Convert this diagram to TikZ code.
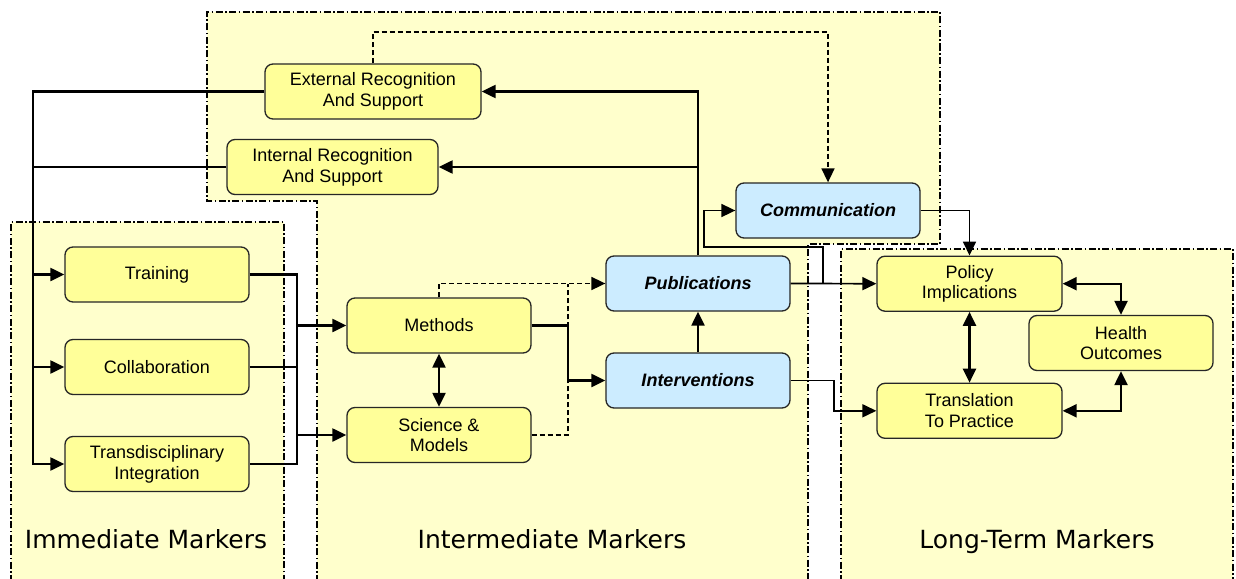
\documentclass[tikz,border=0pt]{standalone}
\usepackage{fontspec}
\setmainfont{Liberation Sans}
\newfontfamily\labfont{DejaVu Sans}
\usetikzlibrary{arrows.meta}
\definecolor{regfill}{RGB}{255,255,204}
\definecolor{nodey}{RGB}{255,255,153}
\definecolor{nodeb}{RGB}{204,236,255}
\tikzset{
  region/.style={fill=regfill, draw=black, line width=1.1pt, dash pattern=on 7pt off 2.5pt on 1.5pt off 2.5pt},
  box/.style={draw=black!85, line width=1.3pt, rounded corners=8pt, fill=nodey, minimum height=55pt, inner sep=0pt, align=center, font=\fontsize{18}{20.7}\selectfont},
  bbox/.style={box, fill=nodeb, font=\fontsize{18}{20.7}\selectfont\bfseries\itshape},
  conn/.style={line width=2.2pt, -{Triangle[length=14pt,width=13pt]}},
  plain/.style={line width=2.2pt},
  thin/.style={line width=1.7pt, -{Triangle[length=14pt,width=13pt]}},
  dconn/.style={line width=1.7pt, dash pattern=on 5pt off 3pt, -{Triangle[length=14pt,width=13pt]}},
  dplain/.style={line width=1.7pt, dash pattern=on 5pt off 3pt},
  both/.style={line width=2.2pt, {Triangle[length=14pt,width=13pt]}-{Triangle[length=14pt,width=13pt]}},
  lab/.style={anchor=base, font=\labfont\fontsize{25}{30}\selectfont}
}
\begin{document}
\begin{tikzpicture}[x=1pt,y=-1pt]
\useasboundingbox (0,0) rectangle (1236,578);
% regions
\draw[region] (11,582) -- (11,222) -- (284,222) -- (284,582);
\draw[region] (317,582) -- (317,201) -- (207,201) -- (207,12) -- (940,12) -- (940,244) -- (808,244) -- (808,582);
\draw[region] (841,582) -- (841,249) -- (1233,249) -- (1233,582);
% labels
\node[lab] (l1) at (146,548) {Immediate Markers};
\node[lab] (l2) at (552,548) {Intermediate Markers};
\node[lab] (l3) at (1037,548) {Long-Term Markers};
% nodes
\node[box, minimum width=216pt] (ext) at (373,91.5) {External Recognition\\And Support};
\node[box, minimum width=211pt] (int) at (332.5,167) {Internal Recognition\\And Support};
\node[box, minimum width=184pt] (train) at (157,274.5) {Training};
\node[box, minimum width=184pt] (collab) at (157,367) {Collaboration};
\node[box, minimum width=184pt] (trans) at (157,464) {Transdisciplinary\\Integration};
\node[box, minimum width=184pt] (meth) at (439,325.5) {Methods};
\node[box, minimum width=184pt] (sci) at (439,435) {Science \&\\Models};
\node[bbox, minimum width=184pt] (pub) at (698,283.5) {Publications};
\node[bbox, minimum width=184pt] (interv) at (698,380.5) {Interventions};
\node[bbox, minimum width=184pt] (comm) at (828,210.5) {Communication};
\node[box, minimum width=185pt] (pol) at (969.5,283.7) {Policy\\Implications};
\node[box, minimum width=185pt] (transl) at (969.5,410.8) {Translation\\To Practice};
\node[box, minimum width=184pt] (health) at (1121,343) {Health\\Outcomes};
% helper coordinates
\coordinate (bl) at (33,0);
\coordinate (br) at (297,0);
\coordinate (mb) at (568,0);
\coordinate (tp) at (0,32);
\coordinate (lp1) at (823,247);
\coordinate (lp2) at (704,0);
\coordinate (ib) at (834,0);
% left bus
\draw[conn] (ext.west) -- (ext.west -| bl) -- (trans.west -| bl) -- (trans.west);
\draw[plain] (int.west) -- (int.west -| bl);
\draw[conn] (train.west -| bl) -- (train.west);
\draw[conn] (collab.west -| bl) -- (collab.west);
% immediate right bus
\draw[plain] (train.east) -- (train.east -| br) -- (trans.east -| br) -- (trans.east);
\draw[plain] (collab.east) -- (collab.east -| br);
\draw[conn] (meth.west -| br) -- (meth.west);
\draw[conn] (sci.west -| br) -- (sci.west);
% methods / science
\draw[both] (meth.south) -- (sci.north);
\draw[conn] (meth.east) -- (meth.east -| mb) |- (interv.west);
\draw[dconn] (meth.north) |- (pub.west);
\draw[dplain] (sci.east) -| (pub.west -| mb);
% interventions / publications
\draw[conn] (interv.north) -- (pub.south);
\draw[conn] (pub.north) |- (ext.east);
\draw[conn] (pub.north |- int.east) -- (int.east);
% external to communication (dashed)
\draw[dconn] (ext.north) -- (ext.north |- tp) -| (comm.north);
% publications to communication / policy
\draw[thin] (pub.east) -- (pol.west);
\draw[thin] (pub.east -| lp1) -- (lp1) -- (lp1 -| lp2) |- (comm.west);
\draw[thin] (comm.east) -| (pol.north);
\draw[thin] (interv.east) -- (interv.east -| ib) |- (transl.west);
% long-term
\draw[both] (pol.south) -- (transl.north);
\draw[both] (pol.east) -| (health.north);
\draw[both] (transl.east) -| (health.south);
\end{tikzpicture}
\end{document}
